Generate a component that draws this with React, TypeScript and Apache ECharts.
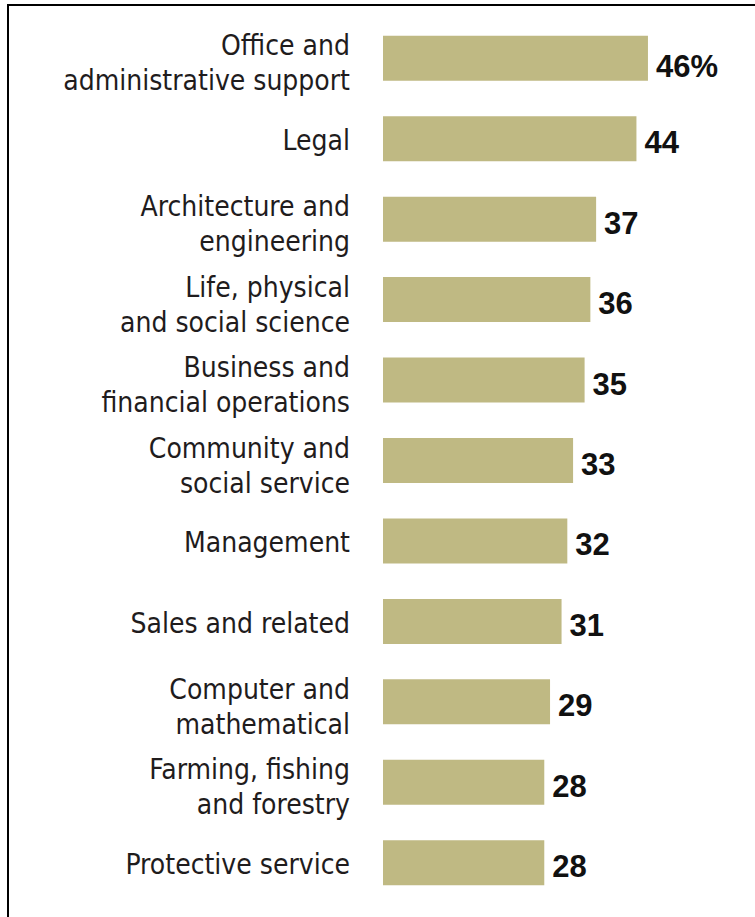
import React, { useEffect, useRef } from "react";
import * as echarts from "echarts";

const categories = [
  "Office and\nadministrative support",
  "Legal",
  "Architecture and\nengineering",
  "Life, physical\nand social science",
  "Business and\nfinancial operations",
  "Community and\nsocial service",
  "Management",
  "Sales and related",
  "Computer and\nmathematical",
  "Farming, fishing\nand forestry",
  "Protective service",
];
const values = [46, 44, 37, 36, 35, 33, 32, 31, 29, 28, 28];
const valueLabels = ["46%", "44", "37", "36", "35", "33", "32", "31", "29", "28", "28"];

const FONT = "'Liberation Sans Narrow', 'DejaVu Sans Condensed', 'Roboto', sans-serif";
const TEXT_COLOR = "#1f1c1d";

export default function App() {
  const ref = useRef<HTMLDivElement>(null);
  useEffect(() => {
    if (!ref.current) return;
    const chart = echarts.init(ref.current, undefined, { renderer: "svg" });
    const base = { fontFamily: FONT, fontSize: 28, lineHeight: 35, color: TEXT_COLOR, align: "right" };
    chart.setOption({
      animation: false,
      backgroundColor: "#ffffff",
      grid: { left: 383, right: 26.4, top: 18, bottom: 14, containLabel: false },
      xAxis: {
        type: "value",
        min: 0,
        max: 60,
        show: false,
      },
      yAxis: {
        type: "category",
        inverse: true,
        data: categories,
        axisLine: { show: false },
        axisTick: { show: false },
        splitLine: { show: false },
        axisLabel: {
          margin: 33,
          align: "right",
          color: TEXT_COLOR,
          fontFamily: FONT,
          fontSize: 28,
          lineHeight: 35,
          formatter: (v: string) => {
            const lines = v.split("\n");
            if (lines.length > 1) {
              return lines.map((l) => "{b|" + l + "}").join("\n");
            }
            return "{c|" + lines[0] + "}";
          },
          rich: {
            b: { ...base, padding: [10, 0, 0, 0] },
            c: { ...base, padding: [4, 0, 0, 0] },
          },
        },
      },
      series: [
        {
          type: "bar",
          data: values.map((v, i) => ({
            value: v,
            label: i === 0 ? { offset: [8, 8] } : undefined,
          })),
          barWidth: 45,
          itemStyle: { color: "#bfb983" },
          label: {
            show: true,
            position: "right",
            distance: 0,
            offset: [8, 4],
            color: "#111111",
            fontWeight: "bold",
            fontFamily: "'Liberation Sans', Arial, sans-serif",
            fontSize: 31,
            formatter: (p: any) => valueLabels[p.dataIndex],
          },
        },
      ],
      graphic: [
        {
          type: "line",
          shape: { x1: 7, y1: 5, x2: 755, y2: 5 },
          style: { stroke: "#000", lineWidth: 2 },
        },
        {
          type: "line",
          shape: { x1: 8, y1: 4, x2: 8, y2: 917 },
          style: { stroke: "#000", lineWidth: 2 },
        },
      ],
    });
    return () => chart.dispose();
  }, []);
  return (
    <div
      ref={ref}
      style={{ position: "fixed", left: 0, top: 0, width: 755, height: 917 }}
    />
  );
}
